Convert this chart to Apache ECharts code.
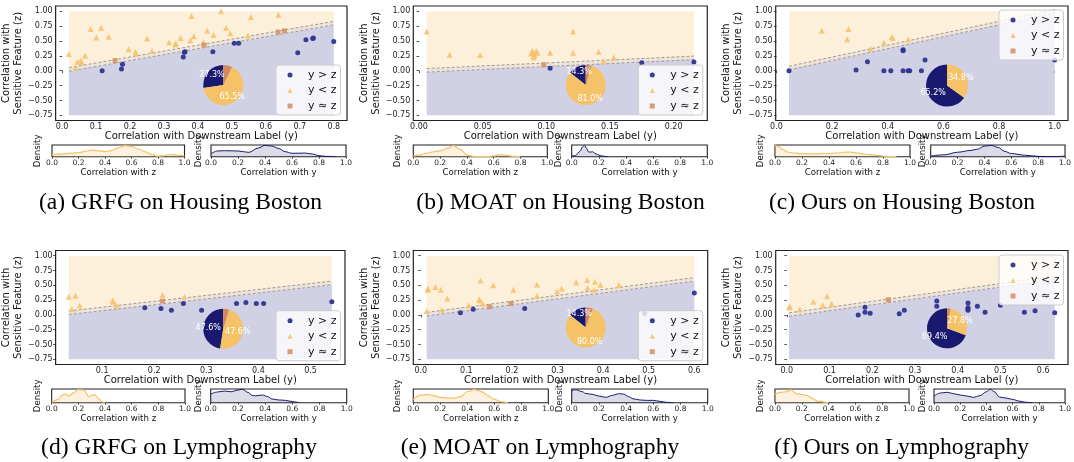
<!DOCTYPE html>
<html><head><meta charset="utf-8">
<script src="https://cdn.jsdelivr.net/npm/echarts@6/dist/echarts.min.js"></script>
<style>html,body{margin:0;padding:0;background:#fff}#c{width:1074px;height:462px}</style>
</head><body><div id="c"></div>
<script>
// ---------------- DATA ----------------
const captions = ['(a) GRFG on Housing Boston','(b) MOAT on Housing Boston','(c) Ours on Housing Boston',
                  '(d) GRFG on Lymphography','(e) MOAT on Lymphography','(f) Ours on Lymphography'];
const legendNames = ['y > z','y < z','y \u2248 z'];
const yTicks = [-0.75,-0.5,-0.25,0,0.25,0.5,0.75,1.0];

// (a) GRFG on Housing Boston  [corr with y, corr with z]
const aAbove = [[0.118,0.00],[0.175,0.03],[0.178,0.11],[0.357,0.23],[0.36,0.31],[0.362,0.32],[0.444,0.32],[0.507,0.46],[0.52,0.46],[0.694,0.30],[0.718,0.52],[0.738,0.54],[0.74,0.55],[0.80,0.49]];
const aBelow = [[0.02,0.28],[0.04,0.05],[0.045,0.15],[0.055,0.17],[0.058,0.14],[0.068,0.25],[0.084,0.70],[0.101,0.56],[0.115,0.72],[0.137,0.57],[0.196,0.36],[0.216,0.32],[0.218,0.29],[0.25,0.54],[0.265,0.33],[0.315,0.48],[0.333,0.44],[0.335,0.46],[0.349,0.55],[0.381,0.92],[0.378,0.51],[0.388,0.58],[0.416,0.48],[0.427,0.67],[0.446,0.60],[0.468,1.00],[0.483,0.72],[0.495,0.63],[0.547,0.59],[0.556,0.90],[0.637,0.94]];
const aEqual = [[0.156,0.17],[0.418,0.43],[0.636,0.65],[0.655,0.67]];
const aPie = [27.3,65.5,7.2];
const aXTicks = [0,0.1,0.2,0.3,0.4,0.5,0.6,0.7,0.8];
const aKdeZ = [[0,0.18],[0.05,0.22],[0.1,0.26],[0.15,0.3],[0.2,0.34],[0.25,0.45],[0.3,0.57],[0.35,0.5],[0.4,0.44],[0.45,0.54],[0.5,0.76],[0.55,0.94],[0.6,0.88],[0.65,0.66],[0.7,0.44],[0.75,0.18],[0.8,0.04],[0.85,0.1],[0.9,0.19],[0.95,0.13],[1.0,0.06]];
const aKdeY = [[0,0.26],[0.05,0.49],[0.1,0.51],[0.2,0.49],[0.28,0.37],[0.35,0.74],[0.4,0.97],[0.45,0.91],[0.5,0.71],[0.55,0.43],[0.6,0.29],[0.65,0.3],[0.7,0.31],[0.75,0.23],[0.8,0.09],[0.85,0.03],[0.93,0.0]];

// (b) MOAT on Housing Boston
const bAbove = [[0.103,0.04],[0.175,0.135],[0.216,0.145]];
const bBelow = [[0.006,0.66],[0.024,0.27],[0.048,0.265],[0.088,0.29],[0.089,0.33],[0.09,0.29],[0.09,0.22],[0.09,0.25],[0.091,0.26],[0.092,0.33],[0.093,0.30],[0.103,0.30],[0.121,0.66],[0.121,0.30],[0.141,0.32],[0.145,0.16],[0.153,0.22]];
const bEqual = [[0.098,0.10]];
const bPie = [14.3,81.0,4.7];
const bXTicks = [0,0.05,0.1,0.15,0.2];
const bKdeZ = [[0,0.05],[0.05,0.15],[0.1,0.3],[0.15,0.42],[0.2,0.5],[0.25,0.7],[0.3,0.95],[0.35,0.62],[0.4,0.15],[0.45,0.02],[0.5,0.0],[0.55,0.01],[0.6,0.07],[0.65,0.17],[0.7,0.11],[0.75,0.02],[0.8,0.0]];
const bKdeY = [[0,0.04],[0.03,0.12],[0.06,0.45],[0.08,0.85],[0.095,0.97],[0.11,0.7],[0.125,0.4],[0.14,0.4],[0.155,0.42],[0.17,0.3],[0.19,0.18],[0.21,0.1],[0.23,0.05],[0.25,0.02],[0.27,0.0]];

// (c) Ours on Housing Boston
const cAbove = [[0.045,0.0],[0.286,0.01],[0.327,0.15],[0.386,0.0],[0.411,0.0],[0.455,0.35],[0.455,0.335],[0.455,0.0],[0.473,0.0],[0.479,0.0],[0.521,0.0],[0.534,0.18],[1.0,0.18]];
const cBelow = [[0.163,0.67],[0.259,0.70],[0.254,0.53],[0.338,0.37],[0.386,0.475],[0.415,0.565],[0.417,0.55],[0.473,0.53]];
const cEqual = [];
const cPie = [65.2,34.8,0];
const cXTicks = [0,0.2,0.4,0.6,0.8,1.0];
const cKdeZ = [[0,0.97],[0.03,0.85],[0.05,0.65],[0.1,0.38],[0.15,0.3],[0.2,0.27],[0.25,0.24],[0.3,0.24],[0.35,0.28],[0.4,0.27],[0.45,0.3],[0.5,0.38],[0.55,0.4],[0.6,0.33],[0.65,0.24],[0.7,0.18],[0.75,0.12],[0.8,0.05],[0.85,0.01],[0.9,0.0]];
const cKdeY = [[0,0.05],[0.1,0.16],[0.2,0.38],[0.3,0.54],[0.35,0.65],[0.4,0.9],[0.45,0.97],[0.5,0.8],[0.55,0.46],[0.6,0.27],[0.7,0.13],[0.8,0.03],[0.9,0.0],[0.95,0.02],[1.0,0.05]];

// (d) GRFG on Lymphography
const dAbove = [[0.182,0.12],[0.213,0.108],[0.233,0.08],[0.256,0.193],[0.291,0.08],[0.358,0.193],[0.376,0.21],[0.396,0.193],[0.41,0.193],[0.541,0.22]];
const dBelow = [[0.036,0.306],[0.042,0.097],[0.049,0.323],[0.057,0.16],[0.12,0.244],[0.122,0.22],[0.128,0.16],[0.216,0.334],[0.258,0.306]];
const dEqual = [[0.216,0.233]];
const dPie = [47.6,47.6,4.8];
const dXTicks = [0.1,0.2,0.3,0.4,0.5];
const dKdeZ = [[0,0.03],[0.05,0.25],[0.08,0.55],[0.1,0.63],[0.13,0.5],[0.16,0.7],[0.2,0.95],[0.24,0.92],[0.28,0.45],[0.32,0.6],[0.35,0.3],[0.38,0.06],[0.4,0.0]];
const dKdeY = [[0,0.63],[0.05,0.78],[0.1,0.85],[0.15,0.8],[0.2,0.92],[0.23,0.98],[0.28,0.73],[0.3,0.55],[0.33,0.5],[0.38,0.56],[0.42,0.45],[0.45,0.27],[0.5,0.2],[0.55,0.17],[0.6,0.08],[0.65,0.0]];

// (e) MOAT on Lymphography
const eAbove = [[0.087,0.035],[0.115,0.097],[0.228,0.108],[0.491,0.024],[0.6,0.368]];
const eBelow = [[0.015,0.424],[0.016,0.44],[0.013,0.068],[0.032,0.47],[0.044,0.424],[0.046,0.086],[0.058,0.278],[0.105,0.165],[0.128,0.26],[0.131,0.58],[0.13,0.244],[0.136,0.19],[0.159,0.50],[0.203,0.424],[0.255,0.515],[0.255,0.323],[0.299,0.396],[0.309,0.447],[0.341,0.549],[0.365,0.588],[0.366,0.458],[0.382,0.56],[0.38,0.419],[0.394,0.509],[0.435,0.503]];
const eEqual = [[0.151,0.137],[0.198,0.193]];
const ePie = [14.3,80.0,5.7];
const eXTicks = [0,0.1,0.2,0.3,0.4,0.5,0.6];
const eKdeZ = [[0,0.24],[0.05,0.54],[0.1,0.61],[0.15,0.51],[0.2,0.39],[0.25,0.34],[0.3,0.34],[0.35,0.44],[0.4,0.8],[0.45,0.95],[0.5,0.83],[0.55,0.54],[0.6,0.24],[0.65,0.07],[0.7,0.0]];
const eKdeY = [[0,0.88],[0.03,0.95],[0.08,0.8],[0.1,0.68],[0.15,0.61],[0.2,0.49],[0.25,0.39],[0.3,0.54],[0.35,0.66],[0.38,0.63],[0.42,0.44],[0.45,0.29],[0.5,0.2],[0.55,0.17],[0.6,0.17],[0.65,0.1],[0.7,0.02],[0.75,0.0]];

// (f) Ours on Lymphography
const fAbove = [[0.167,0.0],[0.183,0.131],[0.183,0.046],[0.195,0.029],[0.263,0.018],[0.275,0.08],[0.351,0.233],[0.351,0.148],[0.424,0.2],[0.424,0.12],[0.424,0.1],[0.424,0.08],[0.446,0.148],[0.464,0.046],[0.5,0.165],[0.556,0.046],[0.581,0.069],[0.627,0.035]];
const fBelow = [[0.005,0.131],[0.007,0.14],[0.03,0.097],[0.062,0.22],[0.084,0.165],[0.094,0.317],[0.105,0.187]];
const fEqual = [[0.238,0.255]];
const fPie = [69.4,27.8,2.8];
const fXTicks = [0,0.1,0.2,0.3,0.4,0.5,0.6];
const fKdeZ = [[0,0.63],[0.04,0.75],[0.08,0.8],[0.12,0.93],[0.16,0.66],[0.2,0.6],[0.24,0.53],[0.28,0.3],[0.32,0.1],[0.34,0.12],[0.37,0.04],[0.4,0.0]];
const fKdeY = [[0,0.49],[0.05,0.71],[0.1,0.76],[0.15,0.66],[0.2,0.56],[0.25,0.49],[0.3,0.39],[0.35,0.51],[0.4,0.8],[0.43,0.98],[0.46,0.8],[0.5,0.41],[0.55,0.34],[0.6,0.24],[0.65,0.12],[0.7,0.03],[0.75,0.0]];

const Z_LO = -0.75, Z_HI = 1.0, BAND = 0.03;

// ---------------- STYLE / LAYOUT ----------------
const NAVY='#191970', ORANGE='#F5C267', BROWN='#D4895C';
const PT_COLORS=['#2f3490','#F5C370','#D4946A'];
const FILL_LOW='#d0d1e4', FILL_HIGH='#fdf0da', FILL_BAND='#ece3da', DASH='#9d9088';
const FONT='DejaVu Sans';

const PANELS = [
  {above:aAbove,below:aBelow,equal:aEqual,pie:aPie,xt:aXTicks,kz:aKdeZ,ky:aKdeY},
  {above:bAbove,below:bBelow,equal:bEqual,pie:bPie,xt:bXTicks,kz:bKdeZ,ky:bKdeY},
  {above:cAbove,below:cBelow,equal:cEqual,pie:cPie,xt:cXTicks,kz:cKdeZ,ky:cKdeY},
  {above:dAbove,below:dBelow,equal:dEqual,pie:dPie,xt:dXTicks,kz:dKdeZ,ky:dKdeY},
  {above:eAbove,below:eBelow,equal:eEqual,pie:ePie,xt:eXTicks,kz:eKdeZ,ky:eKdeY},
  {above:fAbove,below:fBelow,equal:fEqual,pie:fPie,xt:fXTicks,kz:fKdeZ,ky:fKdeY}
];
const LAYOUT = [
  {main:[52,6,295,114.5], dz:[52,145,132.5,11.7], dy:[211,145,135,11.7], dzl:38.3, dyl:199.3, pie:[223.3,85,20], leg:[276,65], cap:[180.5,203], dec:1},
  {main:[413.3,6,294,114.5], dz:[413.3,145,134,11.7], dy:[571.7,145,135.6,11.7], dzl:398.3, dyl:559.3, pie:[585.7,85,20], leg:[638.3,65], cap:[560.5,203], dec:2},
  {main:[775.7,6,292.3,114.5], dz:[775,145,135,11.7], dy:[930.7,145,138.3,11.7], dzl:760.7, dyl:923, pie:[947,85.5,21], leg:[999,10], cap:[902,203], dec:1},
  {main:[52.3,250.5,292.7,114], dz:[51.7,389,133.3,13.7], dy:[210.7,389,136,13.7], dzl:38.3, dyl:199.3, pie:[223.2,328.8,20], leg:[276,310.7], cap:[179,448], dec:1},
  {main:[413.3,250.5,294.4,114], dz:[413.3,389,135,13.7], dy:[571.7,389,136,13.7], dzl:398.3, dyl:560, pie:[585.7,327.5,20], leg:[638.3,310.7], cap:[540,448], dec:1},
  {main:[775.7,250.5,292.3,114], dz:[775,389,134,13.7], dy:[934,389,135,13.7], dzl:760.7, dyl:923, pie:[947,328.3,20], leg:[999,255], cap:[901.7,448], dec:1}
];

function pad(lo,hi){const m=(hi-lo)*0.05;return [lo-m,hi+m];}
function fmt(v,d){ if(Math.abs(v)<1e-9) v=0; return (v<0?'\u2212':'')+Math.abs(v).toFixed(d); }

const grid=[], xAxis=[], yAxis=[], series=[], legend=[], graphic=[];

function poly(gi, pts, color){
  return {type:'custom', xAxisIndex:gi, yAxisIndex:gi, data:pts, silent:true, z:1,
    renderItem:(params, api)=>{
      if(params.dataIndex!==0) return null;
      return {type:'polygon', shape:{points:pts.map(p=>api.coord(p))}, style:{fill:color}};
    }};
}

PANELS.forEach((p,i)=>{
  const L = LAYOUT[i];
  const gi = grid.length;
  grid.push({left:L.main[0], top:L.main[1], width:L.main[2], height:L.main[3], show:true, borderColor:'#222', borderWidth:1.2, backgroundColor:'#fff'});
  const allX = p.above.concat(p.below, p.equal).map(d=>d[0]);
  const x0 = Math.min(...allX), x1 = Math.max(...allX);
  const [xmin,xmax] = pad(x0,x1), [ymin,ymax] = pad(Z_LO,Z_HI);
  xAxis.push({type:'value', gridIndex:gi, min:xmin, max:xmax,
    axisLine:{show:false}, splitLine:{show:false},
    axisTick:{show:true, length:2.5, customValues:p.xt, lineStyle:{color:'#222', width:0.8}},
    axisLabel:{customValues:p.xt, formatter:v=>fmt(v,L.dec), fontSize:8, color:'#222', margin:2.5, showMinLabel:true, showMaxLabel:true},
    name:'Correlation with Downstream Label (y)', nameLocation:'middle', nameGap:9,
    nameTextStyle:{fontSize:10, color:'#111', fontFamily:FONT}});
  yAxis.push({type:'value', gridIndex:gi, min:ymin, max:ymax,
    axisLine:{show:false}, splitLine:{show:false},
    axisTick:{show:true, length:2.5, customValues:yTicks, lineStyle:{color:'#222', width:0.8}},
    axisLabel:{customValues:yTicks, formatter:v=>fmt(v,2), fontSize:8, color:'#222', margin:3},
    name:'Correlation with\nSensitive Feature (z)', nameLocation:'middle', nameGap:17, nameRotate:90,
    nameTextStyle:{fontSize:10, color:'#111', fontFamily:FONT, lineHeight:11.6}});

  series.push(poly(gi, [[x0,Z_LO],[x1,Z_LO],[x1,x1-BAND],[x0,x0-BAND]], FILL_LOW));
  series.push(poly(gi, [[x0,x0+BAND],[x1,x1+BAND],[x1,Z_HI],[x0,Z_HI]], FILL_HIGH));
  series.push(poly(gi, [[x0,x0-BAND],[x1,x1-BAND],[x1,x1+BAND],[x0,x0+BAND]], FILL_BAND));
  [-BAND, BAND].forEach(b=>series.push({type:'line', xAxisIndex:gi, yAxisIndex:gi, data:[[x0,x0+b],[x1,x1+b]],
    symbol:'none', silent:true, z:1, lineStyle:{color:DASH, width:0.9, type:[3,2]}}));

  const sets=[p.above,p.below,p.equal], syms=['circle','triangle','rect'], sizes=[5,6,5];
  sets.forEach((d,k)=>series.push({type:'scatter', name:legendNames[k], xAxisIndex:gi, yAxisIndex:gi, data:d,
    symbol:syms[k], symbolSize:sizes[k], z:2, itemStyle:{color:PT_COLORS[k], opacity:k===0?0.95:0.9}}));

  // pie
  const cols=[NAVY,ORANGE,BROWN];
  series.push({type:'pie', center:[L.pie[0],L.pie[1]], radius:L.pie[2], startAngle:90, clockwise:false, silent:true, z:3,
    data:p.pie.map((v,k)=>({name:'slice'+k, value:v, itemStyle:{color:cols[k]}})),
    label:{show:false}, labelLine:{show:false}});
  series.push({type:'pie', center:[L.pie[0],L.pie[1]], radius:L.pie[2]*1.2, startAngle:90, clockwise:false, silent:true, z:4,
    data:p.pie.map((v,k)=>({name:'lab'+k, value:v, itemStyle:{color:'rgba(0,0,0,0)'}, label:{show:k<2 && v>0}})),
    label:{show:true, position:'inside', formatter:q=>q.value.toFixed(1)+'%', color:'#fff', fontSize:8, fontFamily:FONT},
    labelLine:{show:false}});

  // density plots
  [[L.dz,p.kz,ORANGE,'rgba(245,194,103,0.3)','Correlation with z',L.dzl,1.2],
   [L.dy,p.ky,NAVY,'rgba(25,25,112,0.22)','Correlation with y',L.dyl,1]].forEach(([g,d,lc,ac,nm,lx,lw])=>{
    const di = grid.length;
    grid.push({left:g[0], top:g[1], width:g[2], height:g[3], show:true, borderColor:'#222', borderWidth:1.1, backgroundColor:'#fff'});
    xAxis.push({type:'value', gridIndex:di, min:0, max:1, interval:0.2, axisLine:{show:false}, splitLine:{show:false},
      axisTick:{show:true, length:2, lineStyle:{color:'#222', width:0.8}},
      axisLabel:{formatter:v=>v.toFixed(1), fontSize:7.5, color:'#222', margin:2.5, showMinLabel:true, showMaxLabel:true},
      name:nm, nameLocation:'middle', nameGap:12, nameTextStyle:{fontSize:8.6, color:'#111', fontFamily:FONT}});
    yAxis.push({type:'value', gridIndex:di, min:0, max:1, axisLine:{show:false}, splitLine:{show:false},
      axisTick:{show:false}, axisLabel:{show:false},
      name:'Density', nameLocation:'middle', nameRotate:90, nameGap:g[0]-lx-4.3,
      nameTextStyle:{fontSize:8.6, color:'#111', fontFamily:FONT}});
    series.push({type:'line', xAxisIndex:di, yAxisIndex:di, data:d, smooth:0.35, smoothMonotone:'x', symbol:'none', silent:true,
      lineStyle:{color:lc, width:lw}, areaStyle:{color:ac}});
  });

  legend.push({left:L.leg[0], top:L.leg[1], orient:'vertical', selectedMode:false, z:6,
    data:[{name:legendNames[0],icon:'circle'},{name:legendNames[1],icon:'triangle'},{name:legendNames[2],icon:'rect'}],
    itemWidth:5, itemHeight:5, itemGap:3.5, padding:[4,4,3,11.5],
    backgroundColor:'rgba(255,255,255,0.8)', borderColor:'#cccccc', borderWidth:1, borderRadius:3,
    textStyle:{fontSize:11, fontFamily:FONT, color:'#111', lineHeight:12, padding:[0,0,0,10.5]}});

  graphic.push({type:'text', x:L.cap[0], y:L.cap[1], silent:true,
    style:{text:captions[i], fontSize:23.6, fontFamily:'Liberation Serif', fill:'#000',
           align:'center', verticalAlign:'middle', textAlign:'center', textVerticalAlign:'middle'}});
});

const chart = echarts.init(document.getElementById('c'), null, {renderer:'canvas'});
chart.setOption({animation:false, backgroundColor:'#fff', textStyle:{fontFamily:FONT},
  grid, xAxis, yAxis, series, legend, graphic});
</script></body></html>
